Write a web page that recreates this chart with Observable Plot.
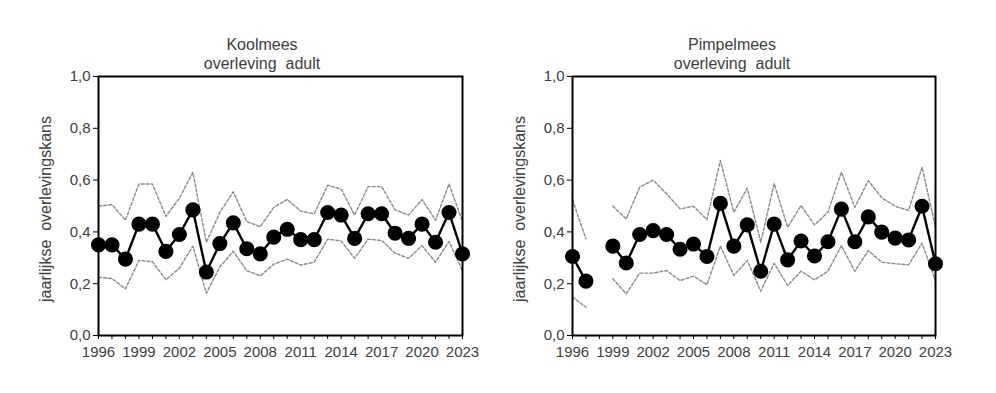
<!DOCTYPE html>
<html>
<head>
<meta charset="utf-8">
<script src="https://cdn.jsdelivr.net/npm/d3@7"></script>
<script src="https://cdn.jsdelivr.net/npm/@observablehq/plot@0.6"></script>
<style>
  html, body { margin: 0; padding: 0; background: #fff; }
  #wrap { position: relative; width: 996px; height: 393px; font-family: "Liberation Sans", Arial, sans-serif; color: #404040; background: #fff; }
  .title { position: absolute; font-size: 16px; line-height: 19px; text-align: center; white-space: pre; width: 240px; z-index: 2; }
  .ylab { position: absolute; font-size: 16px; white-space: pre; transform: translate(-50%, -50%) rotate(-90deg); z-index: 2; }
  .panel { position: absolute; top: 68px; z-index: 1; }
</style>
</head>
<body>
<div id="wrap">
  <div class="panel" id="left" style="left:0px;"></div>
  <div class="panel" id="right" style="left:498px;"></div>
  <div class="title" style="left:142px; top:35px;">Koolmees
overleving  adult</div>
  <div class="title" style="left:612px; top:35px;">Pimpelmees
overleving  adult</div>
  <div class="ylab" style="left:46px; top:209px;">jaarlijkse  overlevingskans</div>
  <div class="ylab" style="left:520px; top:209px;">jaarlijkse  overlevingskans</div>
</div>
<script>
const years = d3.range(1996, 2024);

// Koolmees (great tit) adult annual survival with confidence bounds
const koolmees   = [0.35,0.35,0.295,0.43,0.43,0.325,0.39,0.485,0.245,0.355,0.435,0.335,0.315,0.38,0.41,0.37,0.37,0.475,0.465,0.375,0.47,0.47,0.395,0.375,0.43,0.36,0.475,0.315];
const koolmeesHi = [0.50,0.505,0.445,0.585,0.585,0.46,0.53,0.63,0.36,0.475,0.555,0.44,0.42,0.495,0.525,0.48,0.47,0.58,0.565,0.465,0.575,0.575,0.485,0.465,0.525,0.445,0.585,0.44];
const koolmeesLo = [0.225,0.22,0.18,0.29,0.285,0.215,0.26,0.345,0.163,0.265,0.325,0.25,0.23,0.275,0.295,0.272,0.283,0.372,0.365,0.298,0.372,0.367,0.318,0.298,0.347,0.283,0.363,0.25];

// Pimpelmees (blue tit); 1998 missing
const pimpelmees   = [0.305,0.21,null,0.345,0.28,0.39,0.405,0.39,0.333,0.353,0.305,0.51,0.345,0.427,0.248,0.43,0.292,0.365,0.307,0.362,0.488,0.362,0.458,0.399,0.376,0.369,0.499,0.277];
const pimpelmeesHi = [0.524,0.373,null,0.499,0.45,0.573,0.6,0.547,0.489,0.499,0.447,0.676,0.476,0.569,0.36,0.586,0.418,0.502,0.427,0.476,0.631,0.495,0.598,0.532,0.499,0.483,0.65,0.418];
const pimpelmeesLo = [0.148,0.109,null,0.219,0.161,0.241,0.241,0.251,0.212,0.229,0.196,0.345,0.232,0.29,0.171,0.279,0.193,0.248,0.215,0.248,0.347,0.248,0.328,0.283,0.277,0.273,0.356,0.212];

const yTicks = [0, 0.2, 0.4, 0.6, 0.8, 1.0];

function panel(vals, lo, hi, marginLeft, marginRight) {
  const rows = years.map((y, i) => ({year: y, v: vals[i], lo: lo[i], hi: hi[i]}));
  return Plot.plot({
    width: 498,
    height: 302,
    marginTop: 8,
    marginBottom: 35,
    marginLeft,
    marginRight,
    style: {fontFamily: "Liberation Sans, Arial, sans-serif", fontSize: "15px", color: "#404040", background: "none", overflow: "visible"},
    x: {domain: [1996, 2023]},
    y: {domain: [0, 1]},
    marks: [
      Plot.line(rows, {x: "year", y: "hi", stroke: "#8a8a8a", strokeWidth: 1.4, strokeDasharray: "3,2"}),
      Plot.line(rows, {x: "year", y: "lo", stroke: "#8a8a8a", strokeWidth: 1.4, strokeDasharray: "3,2"}),
      Plot.frame({stroke: "black", strokeWidth: 2}),
      Plot.axisY({ticks: yTicks, tickFormat: d => d.toFixed(1).replace(".", ","), tickSize: 5, tickPadding: 3, label: null, stroke: "black", fill: "#404040"}),
      Plot.axisX({ticks: years, tickFormat: d => (d - 1996) % 3 === 0 ? String(d) : "", tickSize: 4, tickPadding: 7, label: null, stroke: "black", fill: "#404040"}),
      Plot.line(rows, {x: "year", y: "v", stroke: "black", strokeWidth: 2.4}),
      Plot.dot(rows, {x: "year", y: "v", r: 6.8, fill: "black", stroke: "black"})
    ]
  });
}

document.getElementById("left").appendChild(panel(koolmees, koolmeesLo, koolmeesHi, 98, 36));
document.getElementById("right").appendChild(panel(pimpelmees, pimpelmeesLo, pimpelmeesHi, 74, 61));
</script>
</body>
</html>
